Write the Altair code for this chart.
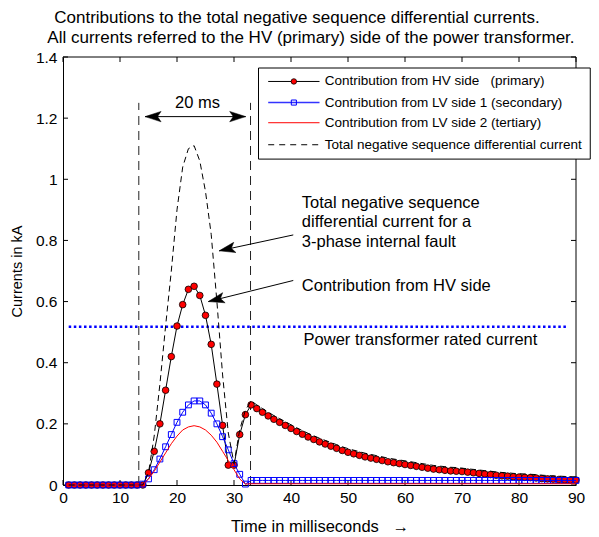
import altair as alt
import pandas as pd

F = "Liberation Sans"
W, H = 513, 428

# ---------------- data ----------------
t = list(range(1, 91))

hv = [0.0] * 14 + [
    0.04, 0.11, 0.20, 0.31, 0.42, 0.52, 0.59, 0.64, 0.65, 0.62,
    0.555, 0.46, 0.33, 0.195, 0.065, 0.065, 0.165, 0.23, 0.262, 0.25,
    0.238, 0.226, 0.215, 0.205, 0.195, 0.185, 0.175, 0.166, 0.157, 0.149,
    0.141, 0.134, 0.127, 0.12, 0.113, 0.107, 0.102, 0.097, 0.092, 0.088,
    0.084, 0.08, 0.076, 0.073, 0.07, 0.067, 0.064, 0.061, 0.058, 0.055,
    0.052, 0.05, 0.048, 0.046, 0.045, 0.044, 0.042, 0.04, 0.038, 0.036,
    0.034, 0.032, 0.03, 0.029, 0.027, 0.026, 0.025, 0.024, 0.023, 0.021,
    0.02, 0.019, 0.018, 0.017, 0.016, 0.016]

lv1 = [0.0] * 13 + [0.003,
    0.02, 0.05, 0.085, 0.125, 0.165, 0.205, 0.238, 0.262, 0.275, 0.275,
    0.262, 0.235, 0.2, 0.158, 0.115, 0.07, 0.035, 0.003] + [0.015] * 58

lv2 = [0.0] * 14 + [
    0.02, 0.045, 0.075, 0.105, 0.135, 0.16, 0.18, 0.19, 0.194, 0.19,
    0.18, 0.163, 0.14, 0.11, 0.08, 0.05, 0.02, 0.003] + [0.004] * 58

total = [0.0] * 14 + [
    0.04, 0.16, 0.33, 0.52, 0.70, 0.90, 1.04, 1.10, 1.11, 1.06,
    0.96, 0.82, 0.60, 0.36, 0.17, 0.07, 0.18, 0.245, 0.275, 0.262,
    0.25, 0.238, 0.227, 0.217, 0.207, 0.197, 0.187, 0.178, 0.169, 0.161,
    0.153, 0.146, 0.139, 0.132, 0.125, 0.119, 0.114, 0.109, 0.104, 0.1,
    0.096, 0.092, 0.088, 0.085, 0.082, 0.079, 0.076, 0.073, 0.07, 0.067,
    0.064, 0.062, 0.06, 0.058, 0.057, 0.055, 0.053, 0.051, 0.049, 0.047,
    0.045, 0.043, 0.041, 0.04, 0.038, 0.037, 0.036, 0.035, 0.034, 0.032,
    0.031, 0.03, 0.029, 0.028, 0.027, 0.027]

assert len(hv) == len(lv1) == len(lv2) == len(total) == len(t)

x_ticks = [0, 10, 20, 30, 40, 50, 60, 70, 80, 90]
y_ticks = [0, 0.2, 0.4, 0.6, 0.8, 1.0, 1.2, 1.4]

rated_current = 0.518
period_lines = [13.3, 32.9]

NB = "\u00a0"
legend_labels = [
    "Contribution from HV side" + NB * 3 + "(primary)",
    "Contribution from LV side 1 (secondary)",
    "Contribution from LV side 2 (tertiary)",
    "Total negative sequence differential current",
]
title_lines = [
    "Contributions to the total negative sequence differential currents.",
    "All currents referred to the HV (primary) side of the power transformer.",
]

# ---------------- scales / axes ----------------
xs = alt.Scale(domain=[0, 90], nice=False, zero=False)
ys = alt.Scale(domain=[0, 1.4], nice=False)
common_axis = dict(ticks=False, grid=False, labelFontSize=15.5,
                   titleFontWeight="normal", labelFont=F, titleFont=F,
                   labelColor="black", titleColor="black", domainColor="black",
                   domainWidth=1, labelFlush=False)
xaxis = alt.Axis(values=x_ticks, title="Time in milliseconds" + NB * 3 + "\u2192",
                 format="d", titleFontSize=16.5, labelPadding=5, titlePadding=13,
                 **common_axis)
yaxis = alt.Axis(values=y_ticks, title="Currents in kA", format="~g",
                 titleFontSize=14.5, labelPadding=6, titlePadding=11, **common_axis)


def X(f):
    return alt.X(f, type="quantitative", scale=xs, axis=xaxis)


def Y(f):
    return alt.Y(f, type="quantitative", scale=ys, axis=yaxis)


one = pd.DataFrame({"a": [0]})
df = pd.DataFrame({"t": t, "hv": hv, "lv1": lv1, "lv2": lv2, "total": total})
base = alt.Chart(df)

layers = []

# frame (top / right)
layers.append(alt.Chart(one).mark_rule(color="black", strokeWidth=1).encode(
    x=alt.value(0), x2=alt.value(W), y=alt.value(0)))
layers.append(alt.Chart(one).mark_rule(color="black", strokeWidth=1).encode(
    x=alt.value(W), y=alt.value(0), y2=alt.value(H)))

# inward ticks
xt = pd.DataFrame({"v": x_ticks})
yt = pd.DataFrame({"v": y_ticks})
layers.append(alt.Chart(xt).mark_rule(color="black").encode(
    x=X("v"), y=alt.value(H), y2=alt.value(H - 5)))
layers.append(alt.Chart(xt).mark_rule(color="black").encode(
    x=X("v"), y=alt.value(0), y2=alt.value(5)))
layers.append(alt.Chart(yt).mark_rule(color="black").encode(
    y=Y("v"), x=alt.value(0), x2=alt.value(5)))
layers.append(alt.Chart(yt).mark_rule(color="black").encode(
    y=Y("v"), x=alt.value(W), x2=alt.value(W - 5)))

# rated current dotted line
layers.append(alt.Chart(pd.DataFrame({"x0": [1.0], "x1": [88.5], "y": [rated_current]}))
              .mark_rule(color="#0000ff", strokeWidth=2.5, strokeDash=[2.5, 2.6])
              .encode(x=X("x0"), x2="x1", y=Y("y")))

# 20 ms period lines
layers.append(alt.Chart(pd.DataFrame({"x": period_lines, "y0": [0, 0], "y1": [1.25, 1.25]}))
              .mark_rule(color="#222222", strokeWidth=1, strokeDash=[9, 6])
              .encode(x=X("x"), y=Y("y0"), y2="y1"))

# series
layers.append(base.mark_line(color="black", strokeWidth=1).encode(x=X("t"), y=Y("hv")))
layers.append(base.mark_point(shape="circle", filled=True, fill="#ff0000", stroke="black",
                              strokeWidth=0.8, size=44, opacity=1)
              .encode(x=X("t"), y=Y("hv")))
layers.append(base.mark_line(color="#0000ff", strokeWidth=1).encode(x=X("t"), y=Y("lv1")))
layers.append(base.mark_point(shape="square", filled=False, stroke="#0000ff",
                              strokeWidth=1, size=34, opacity=1)
              .encode(x=X("t"), y=Y("lv1")))
layers.append(base.mark_line(color="#ff0000", strokeWidth=1).encode(x=X("t"), y=Y("lv2")))
layers.append(base.mark_line(color="black", strokeWidth=1, strokeDash=[6, 4])
              .encode(x=X("t"), y=Y("total")))

# arrows
head = "M0,0 L2,-0.65 L1.55,0 L2,0.65 Z"
arrows = pd.DataFrame({"x0": [14.4, 40.4, 40.4], "y0": [1.205, 0.818, 0.669],
                       "x1": [32.05, 27.4, 25.5], "y1": [1.205, 0.766, 0.600]})
layers.append(alt.Chart(arrows).mark_rule(color="black", strokeWidth=1)
              .encode(x=X("x0"), y=Y("y0"), x2="x1", y2="y1"))
heads = pd.DataFrame({"x": [14.4, 32.05, 27.4, 25.5], "y": [1.205, 1.205, 0.766, 0.600],
                      "ang": [0, 180, 347.8, 346.1]})
layers.append(alt.Chart(heads).mark_point(shape=head, filled=True, fill="black",
                                          stroke="black", strokeWidth=0.5, size=256, opacity=1)
              .encode(x=X("x"), y=Y("y"), angle=alt.Angle("ang:Q", scale=None)))

# annotation texts
notes = pd.DataFrame({
    "x": [23.6, 41.9, 41.9, 41.9, 41.9, 42.2],
    "y": [1.249, 0.924, 0.861, 0.795, 0.651, 0.475],
    "txt": ["20 ms", "Total negative sequence", "differential current for a",
            "3-phase internal fault", "Contribution from HV side",
            "Power transformer rated current"],
    "al": ["center", "left", "left", "left", "left", "left"],
})
layers.append(alt.Chart(notes[notes.al == "center"]).mark_text(
    font=F, fontSize=16.5, color="black", align="center", baseline="middle")
    .encode(x=X("x"), y=Y("y"), text="txt:N"))
layers.append(alt.Chart(notes[notes.al == "left"]).mark_text(
    font=F, fontSize=16.5, color="black", align="left", baseline="middle")
    .encode(x=X("x"), y=Y("y"), text="txt:N"))

# legend (drawn in data coordinates)
layers.append(alt.Chart(pd.DataFrame({"x0": [34.3], "x1": [92.5], "y0": [1.066], "y1": [1.364]}))
              .mark_rect(fill="white", stroke="black", strokeWidth=1)
              .encode(x=X("x0"), x2="x1", y=Y("y0"), y2="y1"))
rows_y = [1.32, 1.251, 1.185, 1.113]
leg_lines = pd.DataFrame({"x0": [36.0] * 4, "x1": [45.0] * 4, "y": rows_y,
                          "k": ["hv", "lv1", "lv2", "tot"]})
layers.append(alt.Chart(leg_lines[leg_lines.k == "hv"]).mark_rule(color="black", strokeWidth=1)
              .encode(x=X("x0"), x2="x1", y=Y("y")))
layers.append(alt.Chart(leg_lines[leg_lines.k == "lv1"]).mark_rule(color="#3333ff", strokeWidth=1.5)
              .encode(x=X("x0"), x2="x1", y=Y("y")))
layers.append(alt.Chart(leg_lines[leg_lines.k == "lv2"]).mark_rule(color="#ff0000", strokeWidth=1)
              .encode(x=X("x0"), x2="x1", y=Y("y")))
layers.append(alt.Chart(leg_lines[leg_lines.k == "tot"]).mark_rule(color="black", strokeWidth=1,
                                                                   strokeDash=[6, 5])
              .encode(x=X("x0"), x2="x1", y=Y("y")))
layers.append(alt.Chart(pd.DataFrame({"x": [40.5], "y": [rows_y[0]]}))
              .mark_point(shape="circle", filled=True, fill="#ff0000", stroke="black",
                          strokeWidth=0.8, size=30, opacity=1)
              .encode(x=X("x"), y=Y("y")))
layers.append(alt.Chart(pd.DataFrame({"x": [40.5], "y": [rows_y[1]]}))
              .mark_point(shape="square", filled=False, stroke="#0000ff", strokeWidth=1,
                          size=26, opacity=1)
              .encode(x=X("x"), y=Y("y")))
layers.append(alt.Chart(pd.DataFrame({"x": [45.9] * 4, "y": rows_y, "txt": legend_labels}))
              .mark_text(font=F, fontSize=13.5, color="black", align="left", baseline="middle")
              .encode(x=X("x"), y=Y("y"), text="txt:N"))

# title (two centred lines)
layers.append(alt.Chart(pd.DataFrame({"x": [41.05, 43.5], "y": [1.529, 1.4606], "txt": title_lines}))
              .mark_text(font=F, fontSize=17, color="black", align="center", baseline="middle")
              .encode(x=X("x"), y=Y("y"), text="txt:N"))

chart = alt.layer(*layers).properties(
    width=W, height=H,
    autosize=alt.AutoSizeParams(type="none"),
    padding={"left": 55, "top": 49, "right": 15, "bottom": 52},
).configure_view(stroke=None)

chart.save("out.html", embed_options={"renderer": "svg", "actions": False})
